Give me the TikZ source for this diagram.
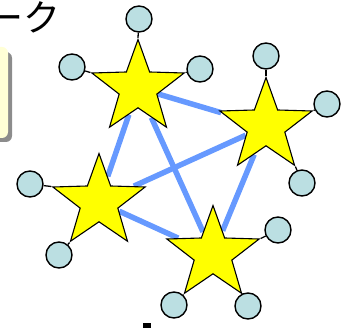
\documentclass[tikz,border=0pt]{standalone}
\usepackage{fontspec}
\newfontfamily\cjk{Noto Sans CJK JP}
\usetikzlibrary{shapes.geometric,backgrounds}
\definecolor{starY}{HTML}{FFFF00}
\definecolor{nodeC}{HTML}{BBDFE2}
\definecolor{linkB}{HTML}{6699FF}
\definecolor{boxC}{HTML}{FFFFD6}
\definecolor{shadowC}{HTML}{8C8C8C}
\tikzset{
  hub/.style={star, star points=5, star point ratio=2.45, minimum size=97pt, inner sep=0pt,
    draw=black, line width=1.1pt, fill=starY},
  leaf/.style={circle, minimum size=26pt, inner sep=0pt, draw=black, line width=1.4pt, fill=nodeC},
  spoke/.style={draw=black, line width=1.3pt},
  link/.style={draw=linkB, line width=5.5pt}
}
\begin{document}
\begin{tikzpicture}[x=1pt,y=-1pt]
\useasboundingbox (0,0) rectangle (353,328);
\clip (0,0) rectangle (353,328);
% box with shadow
\fill[shadowC, rounded corners=6pt] (-30,52) rectangle (12,142);
\node[fill=boxC, rounded corners=6pt, minimum width=40pt, minimum height=91pt, inner sep=0pt] (box) at (-12,92.5) {};
% title text
\node[anchor=east, inner sep=0pt, font=\cjk\fontsize{37}{37}\selectfont] (title) at (61,17) {ーク};
% hubs
\node[hub] (s1) at (138,88) {};
\node[hub] (s2) at (266,126) {};
\node[hub] (s3) at (99,202) {};
\node[hub] (s4) at (213,254) {};
% leaves
\node[leaf] (a1) at (139,19) {};
\node[leaf] (a2) at (72,67) {};
\node[leaf] (a3) at (200,69) {};
\node[leaf] (b1) at (266,56) {};
\node[leaf] (b2) at (327,104) {};
\node[leaf] (b3) at (302,183) {};
\node[leaf] (c1) at (30,184) {};
\node[leaf] (c2) at (59,255) {};
\node[leaf] (d1) at (278,230) {};
\node[leaf] (d2) at (174,305) {};
\node[leaf] (d3) at (248,306) {};
% links behind stars
\begin{pgfonlayer}{background}
\draw[link] (s1) -- (s2);
\draw[link] (s1) -- (s3);
\draw[link] (s1) -- (s4);
\draw[link] (s2) -- (s3);
\draw[link] (s2) -- (s4);
\draw[link] (s3) -- (s4);
\draw[spoke] (a1) -- (s1.outer point 1);
\draw[spoke] (a2) -- (s1.outer point 2);
\draw[spoke] (a3) -- (s1.outer point 5);
\draw[spoke] (b1) -- (s2.outer point 1);
\draw[spoke] (b2) -- (s2.outer point 5);
\draw[spoke] (b3) -- (s2.outer point 4);
\draw[spoke] (c1) -- (s3.outer point 2);
\draw[spoke] (c2) -- (s3.outer point 3);
\draw[spoke] (d1) -- (s4.outer point 5);
\draw[spoke] (d2) -- (s4.outer point 3);
\draw[spoke] (d3) -- (s4.outer point 4);
\end{pgfonlayer}
% small mark at bottom
\fill[black] (143,323) rectangle (151,328);
\end{tikzpicture}
\end{document}
